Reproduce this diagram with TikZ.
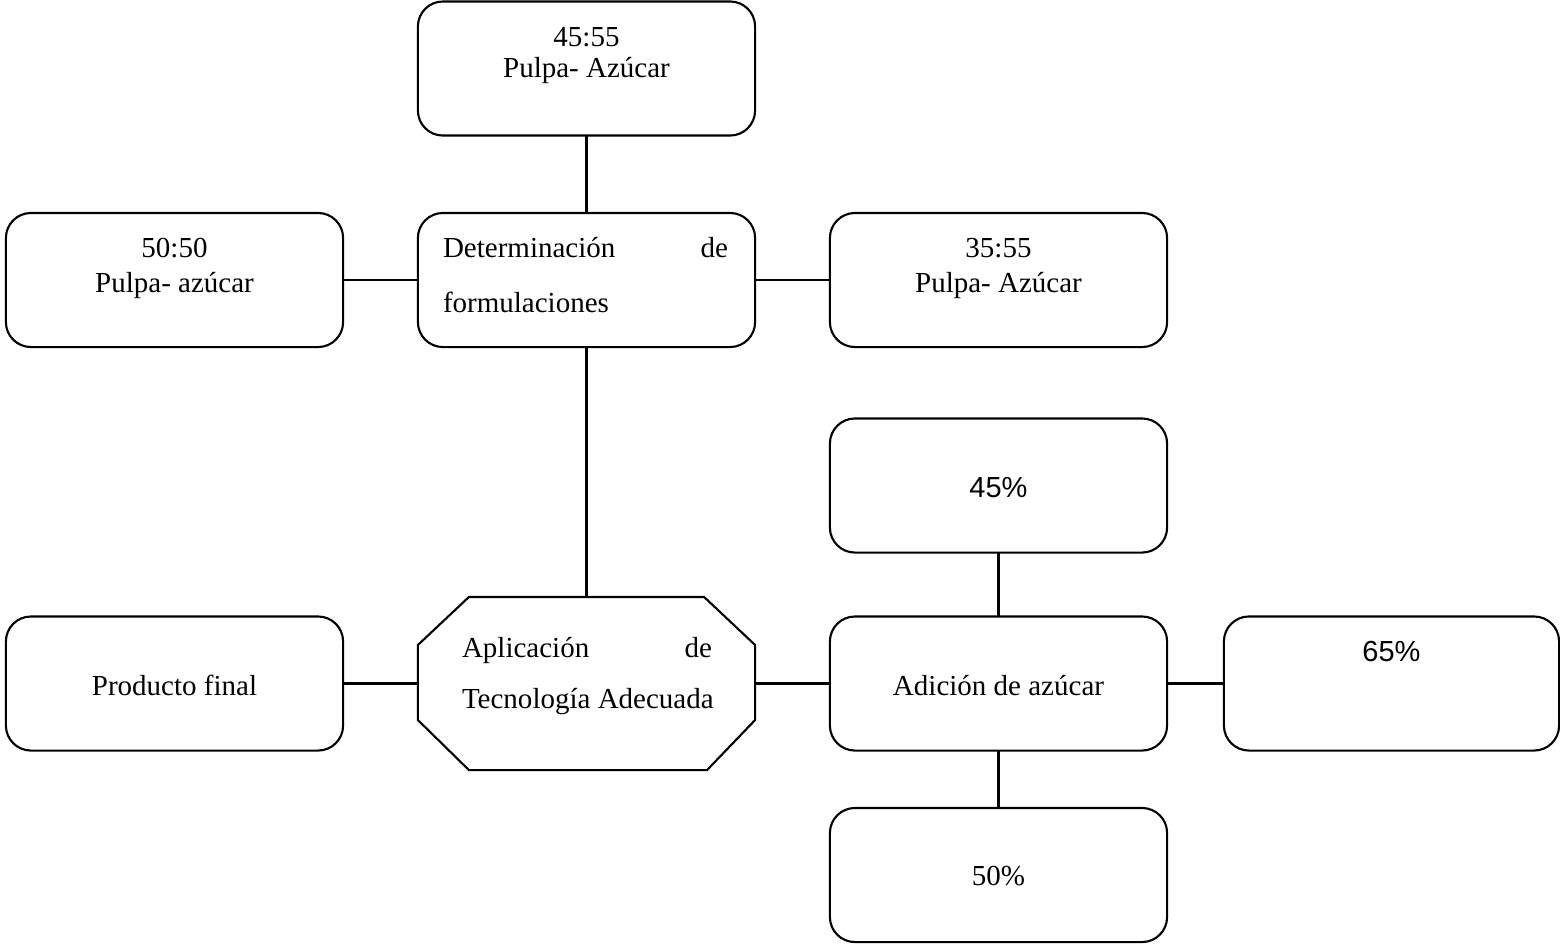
\documentclass[tikz,border=0pt]{standalone}
\usepackage{fontspec}
\setmainfont{Liberation Serif}
\newfontfamily\pctfont{Liberation Sans}
\begin{document}
\begin{tikzpicture}[x=0.01cm,y=-0.01cm,
  box/.style={draw,line width=0.6pt,rounded corners=0.25cm,minimum width=3.37cm,
    minimum height=1.34cm,inner sep=0pt,outer sep=0pt},
  frame/.style={minimum width=3.37cm,minimum height=1.73cm,inner sep=0pt,outer sep=0pt},
  txt/.style={inner sep=0pt,outer sep=0pt,font=\fontsize{8.25pt}{10pt}\selectfont},
  stxt/.style={inner sep=0pt,outer sep=0pt,font=\pctfont\fontsize{8.25pt}{10pt}\selectfont},
  link/.style={line width=0.6pt}]
\useasboundingbox (0,0) rectangle (1560,944);

% boxes
\node[box] (top)   at (586.5,68.5) {};
\node[box] (left)  at (174.5,280) {};
\node[box] (det)   at (586.5,280) {};
\node[box] (right) at (998.5,280) {};
\node[box] (p45)   at (998.5,485.5) {};
\node[box] (pf)    at (174.5,683.5) {};
\node[box] (ad)    at (998.5,683.5) {};
\node[box,minimum width=3.35cm] (p65) at (1391.5,683.5) {};
\node[box] (p50)   at (998.5,875) {};

% octagon for the technology step
\node[frame] (oct) at (586.5,683.5) {};
\draw[line width=0.6pt]
  ([xshift=0.51cm]oct.north west) -- ([xshift=-0.51cm]oct.north east)
  -- ([yshift=-0.48cm]oct.north east) -- ([yshift=0.5cm]oct.south east)
  -- ([xshift=-0.48cm]oct.south east) -- ([xshift=0.51cm]oct.south west)
  -- ([yshift=0.5cm]oct.south west) -- ([yshift=-0.48cm]oct.north west) -- cycle;

% labels
\node[txt,anchor=base] (t1a) at (586.5,46) {45:55};
\node[txt,anchor=base] (t1b) at (586.5,77) {Pulpa- Azúcar};
\node[txt,anchor=base] (t2a) at (174.5,257) {50:50};
\node[txt,anchor=base] (t2b) at (174.5,292) {Pulpa- azúcar};
\node[txt,anchor=base west] (t3a) at (443,257) {Determinación};
\node[txt,anchor=base east] (t3b) at (728,257) {de};
\node[txt,anchor=base west] (t3c) at (443,312) {formulaciones};
\node[txt,anchor=base] (t4a) at (998.5,257) {35:55};
\node[txt,anchor=base] (t4b) at (998.5,292) {Pulpa- Azúcar};
\node[stxt,anchor=base] (t5) at (998.5,497) {45\%};
\node[txt,anchor=base] (t6) at (174.5,695) {Producto final};
\node[txt,anchor=base west] (t7a) at (462,657) {Aplicación};
\node[txt,anchor=base east] (t7b) at (712,657) {de};
\node[txt,anchor=base west] (t7c) at (462,708) {Tecnología Adecuada};
\node[txt,anchor=base] (t8) at (998.5,695) {Adición de azúcar};
\node[stxt,anchor=base] (t9) at (1391.5,661) {65\%};
\node[txt,anchor=base] (t10) at (998.5,885) {50\%};

% connectors
\draw[link] (top.south) -- (det.north);
\draw[link] (left.east) -- (det.west);
\draw[link] (det.east) -- (right.west);
\draw[link] (det.south) -- (oct.north);
\draw[link] (pf.east) -- (oct.west);
\draw[link] (oct.east) -- (ad.west);
\draw[link] (p45.south) -- (ad.north);
\draw[link] (ad.east) -- (p65.west);
\draw[link] (ad.south) -- (p50.north);
\end{tikzpicture}
\end{document}
